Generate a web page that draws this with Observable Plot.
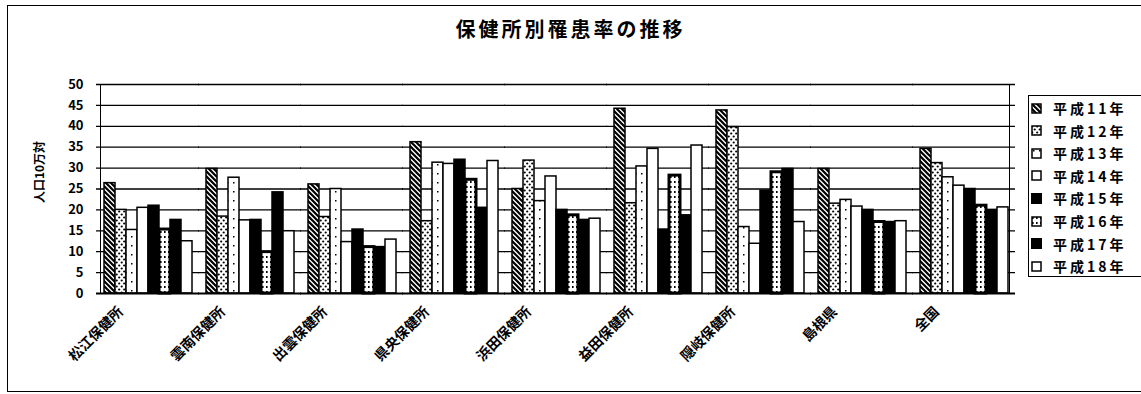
<!DOCTYPE html>
<html><head><meta charset="utf-8">
<script src="https://cdn.jsdelivr.net/npm/d3@7"></script>
<script src="https://cdn.jsdelivr.net/npm/@observablehq/plot@0.6"></script>
<style>
body{margin:0;background:#fff;font-family:"Noto Sans CJK JP","Noto Sans",sans-serif;}
#wrap{position:relative;width:1141px;height:394px;overflow:hidden;background:#fff;}
#outer{position:absolute;left:7px;top:5px;width:1150px;height:387px;border:1px solid #000;box-sizing:border-box;}
#chart{position:absolute;left:0;top:0;}
#frame{position:absolute;left:100px;top:84px;width:910px;height:210px;border:1.5px solid #000;border-bottom:none;box-sizing:border-box;pointer-events:none;}
#title{position:absolute;left:0;top:14px;width:1141px;text-align:center;font-size:20px;letter-spacing:3px;font-weight:bold;}
#ylab{position:absolute;left:38px;top:172px;transform:translate(-50%,-50%) rotate(-90deg);font-size:12px;font-weight:bold;white-space:nowrap;}
#legend{position:absolute;left:1028px;top:95px;width:130px;height:182px;border:1.5px solid #000;box-sizing:border-box;}
.li{position:absolute;left:2px;height:16px;display:flex;align-items:center;font-size:14px;font-weight:bold;letter-spacing:3px;white-space:nowrap;}
.li svg{margin-right:11px;}
</style>
</head><body>
<div id="wrap">
  <div id="outer"></div>
  <div id="chart"></div>
  <div id="frame"></div>
  <div id="title">保健所別罹患率の推移</div>
  <div id="ylab">人口10万対</div>
  <div id="legend"></div>
</div>
<script>
const groups = ["松江保健所","雲南保健所","出雲保健所","県央保健所","浜田保健所","益田保健所","隠岐保健所","島根県","全国"];
const years = ["平成11年","平成12年","平成13年","平成14年","平成15年","平成16年","平成17年","平成18年"];
const h11 = [26.4, 29.8, 26.1, 36.2, 25.0, 44.2, 43.8, 29.8, 34.6];
const h12 = [20.0, 18.4, 18.3, 17.3, 31.8, 21.6, 39.8, 21.5, 31.2];
const h13 = [15.2, 27.7, 25.0, 31.3, 22.1, 30.4, 15.9, 22.4, 27.8];
const h14 = [20.5, 17.5, 12.3, 31.0, 28.0, 34.6, 11.9, 20.8, 25.8];
const h15 = [21.0, 17.6, 15.3, 32.0, 20.0, 15.3, 24.6, 20.0, 25.0];
const h16 = [15.3,  9.9, 11.1, 27.2, 18.7, 28.2, 29.0, 17.1, 21.0];
const h17 = [17.6, 24.2, 11.1, 20.5, 17.6, 18.7, 29.8, 17.1, 20.0];
const h18 = [12.5, 14.9, 12.9, 31.7, 17.9, 35.4, 17.1, 17.3, 20.6];
const yTicks = [0, 5, 10, 15, 20, 25, 30, 35, 40, 45, 50];

const series = [h11, h12, h13, h14, h15, h16, h17, h18];
const data = [];
groups.forEach((g, gi) => years.forEach((yr, yi) => data.push({group: g, year: yr, value: series[yi][gi]})));
const patIds = years.map((d, i) => "pat" + i);

const plot = Plot.plot({
  width: 1141, height: 394,
  marginLeft: 100, marginRight: 131, marginTop: 84, marginBottom: 101,
  fx: {domain: groups, padding: 0.13, axis: null, label: null},
  x: {domain: years, padding: 0, axis: null},
  y: {domain: [0, 50], ticks: yTicks, label: null, tickSize: 0, tickPadding: 20},
  color: {type: "ordinal", domain: years, range: patIds.map(id => `url(#${id})`)},
  style: {fontFamily: "'Noto Sans CJK JP', sans-serif", fontSize: "13px", fontWeight: "bold", color: "#000", background: "transparent"},
  marks: [
    Plot.ruleY(yTicks.slice(1), {stroke: "#000", strokeWidth: 1.3, insetLeft: -7, insetRight: -7}),
    Plot.barY(data, {fx: "group", x: "year", y: "value", fill: "year", stroke: "#000",
      strokeWidth: d => d.year === "平成16年" ? 3 : 1.5}),
    Plot.ruleY([0], {stroke: "#000", strokeWidth: 2, insetLeft: -7, insetRight: -7}),
    Plot.text(groups, {fx: d => d, text: d => d, frameAnchor: "bottom", rotate: -45, textAnchor: "end",
      dx: -24, dy: 19, fontSize: 14, fontWeight: "bold"})
  ]
});
document.getElementById("chart").appendChild(plot);

// pattern definitions
const NS = "http://www.w3.org/2000/svg";
const defsSvg = document.createElementNS(NS, "svg");
defsSvg.setAttribute("width", 0); defsSvg.setAttribute("height", 0);
defsSvg.style.position = "absolute";
defsSvg.innerHTML = `<defs>
<pattern id="pat0" patternUnits="userSpaceOnUse" width="5" height="5">
  <rect width="5" height="5" fill="#fff"/>
  <path d="M-1,-1 L6,6 M-1,4 L1,6 M4,-1 L6,1" stroke="#000" stroke-width="2.2"/>
</pattern>
<pattern id="pat1" patternUnits="userSpaceOnUse" width="5" height="6">
  <rect width="5" height="6" fill="#fff"/>
  <circle cx="1.2" cy="1.5" r="1.1" fill="#000"/><circle cx="3.7" cy="4.5" r="1.1" fill="#000"/>
</pattern>
<pattern id="pat2" patternUnits="userSpaceOnUse" width="6" height="9">
  <rect width="6" height="9" fill="#fff"/>
  <rect x="2" y="2" width="1.5" height="1.5" fill="#000"/>
</pattern>
<pattern id="pat3" patternUnits="userSpaceOnUse" width="4" height="4"><rect width="4" height="4" fill="#fff"/></pattern>
<pattern id="pat4" patternUnits="userSpaceOnUse" width="4" height="4"><rect width="4" height="4" fill="#000"/></pattern>
<pattern id="pat5" patternUnits="userSpaceOnUse" width="4" height="5">
  <rect width="4" height="5" fill="#fff"/><rect x="1" y="1" width="1.6" height="2" fill="#000"/>
</pattern>
<pattern id="pat6" patternUnits="userSpaceOnUse" width="4" height="4"><rect width="4" height="4" fill="#000"/></pattern>
<pattern id="pat7" patternUnits="userSpaceOnUse" width="4" height="4"><rect width="4" height="4" fill="#fff"/></pattern>
</defs>`;
document.getElementById("wrap").appendChild(defsSvg);

// legend
const lg = document.getElementById("legend");
years.forEach((yr, i) => {
  const it = document.createElement("div");
  it.className = "li";
  it.style.top = (4 + i * 22.6) + "px";
  const sw = i === 4 || i === 6 ? 2 : 1.5;
  it.innerHTML = `<svg width="11" height="11"><rect x="1" y="1" width="9" height="9" fill="url(#${patIds[i]})" stroke="#000" stroke-width="${sw}"/></svg>${yr}`;
  lg.appendChild(it);
});
</script>
</body></html>
